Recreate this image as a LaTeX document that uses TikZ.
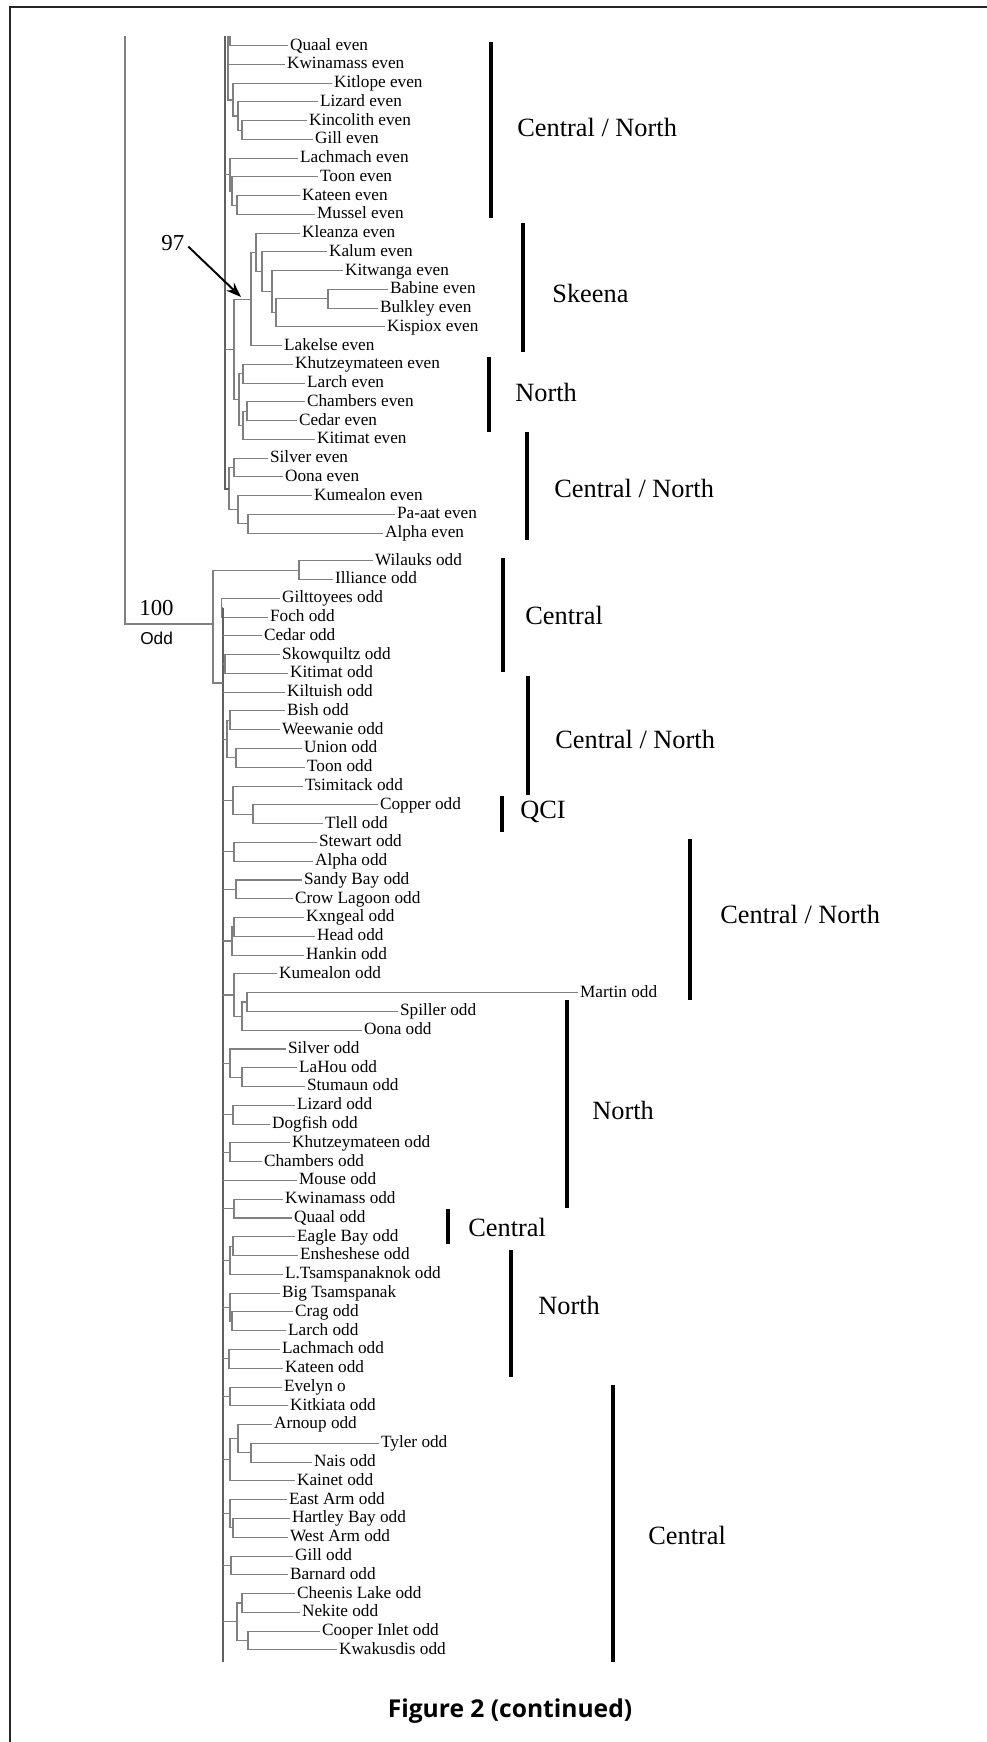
\documentclass[tikz,border=0pt]{standalone}
\usepackage{fontspec}
\setmainfont{Liberation Serif}
\newfontfamily\labsans{Liberation Sans}
\newfontfamily\capsans{Open Sans}
\usetikzlibrary{arrows.meta,positioning}
\tikzset{
  leaf/.style={anchor=west, inner xsep=1pt, inner ysep=0pt,
               font=\fontsize{9.8}{10}\selectfont, text height=7pt, text depth=2pt},
  br/.style={draw=black!50, line width=0.6pt},
  spine/.style={draw=black!62, line width=1.3pt},
  trunk/.style={draw=black!50, line width=0.9pt},
  bar/.style={draw=black, line width=2.3pt},
  region/.style={anchor=west, inner sep=0pt, font=\fontsize{15}{16}\selectfont},
  boot/.style={anchor=west, inner sep=0pt, font=\fontsize{13}{14}\selectfont},
  flow/.style={-{Stealth[length=3mm, width=2.2mm]}, line width=1.1pt},
}
\newcommand{\clade}[5]{\coordinate (#1) at (#2,#3); \draw[br] (#4) -| (#1) |- (#5);}
\newcommand{\cn}{Central / North}

\begin{document}
\begin{tikzpicture}[x=0.02cm, y=-0.02cm]
  \useasboundingbox (0,0) rectangle (987,1742);
  % frame
  \coordinate (fA) at (10,1742); \coordinate (fB) at (987,7);
  \draw[line width=1.2pt, black!85] (fA) |- (fB);

  % even leaves
  \foreach \n/\x/\t [count=\i from 0] in {eQuaal/288/Quaal even, eKwin/285/Kwinamass even,
      eKitl/332/Kitlope even, eLiz/318/Lizard even, eKinc/307/Kincolith even, eGill/313/Gill even,
      eLach/298/Lachmach even, eToon/318/Toon even, eKat/300/Kateen even, eMus/315/Mussel even,
      eKlea/300/Kleanza even, eKal/327/Kalum even, eKitw/343/Kitwanga even, eBab/388/Babine even,
      eBul/378/Bulkley even, eKisp/385/Kispiox even, eLak/282/Lakelse even,
      eKhu/293/Khutzeymateen even, eLar/305/Larch even, eCham/305/Chambers even,
      eCed/297/Cedar even, eKiti/315/Kitimat even, eSil/268/Silver even, eOona/283/Oona even,
      eKum/312/Kumealon even, ePaa/395/Pa-aat even, eAlp/383/Alpha even}
    \node[leaf] (\n) at (\x,{45.7+18.75*\i}) {\t};

  % odd leaves
  \foreach \n/\x/\t [count=\i from 0] in {oWil/373/Wilauks odd, oIll/333/Illiance odd,
      oGil/280/Gilttoyees odd, oFoch/268/Foch odd, oCed/262/Cedar odd, oSkow/280/Skowquiltz odd,
      oKiti/288/Kitimat odd, oKilt/285/Kiltuish odd, oBish/285/Bish odd, oWee/280/Weewanie odd,
      oUni/302/Union odd, oToon/305/Toon odd, oTsim/303/Tsimitack odd, oCop/378/Copper odd,
      oTle/323/Tlell odd, oStew/317/Stewart odd, oAlp/313/Alpha odd, oSandy/302/Sandy Bay odd,
      oCrow/293/Crow Lagoon odd, oKxn/304/Kxngeal odd, oHead/315/Head odd, oHank/304/Hankin odd,
      oKum/277/Kumealon odd, oMart/578/Martin odd, oSpil/398/Spiller odd, oOona/362/Oona odd,
      oSil/286/Silver odd, oLaH/297/LaHou odd, oStum/305/Stumaun odd, oLiz/295/Lizard odd,
      oDog/270/Dogfish odd, oKhu/290/Khutzeymateen odd, oCham/262/Chambers odd,
      oMou/297/Mouse odd, oKwin/283/Kwinamass odd, oQua/292/Quaal odd, oEag/295/Eagle Bay odd,
      oEns/298/Ensheshese odd, oLTs/283/L.Tsamspanaknok odd, oBTs/280/Big Tsamspanak,
      oCrag/293/Crag odd, oLar/286/Larch odd, oLach/280/Lachmach odd, oKat/283/Kateen odd,
      oEve/282/Evelyn o, oKitk/288/Kitkiata odd, oArn/272/Arnoup odd, oTyl/379/Tyler odd,
      oNais/312/Nais odd, oKain/295/Kainet odd, oEast/287/East Arm odd,
      oHart/290/Hartley Bay odd, oWest/288/West Arm odd, oGill/293/Gill odd,
      oBarn/288/Barnard odd, oChee/295/Cheenis Lake odd, oNek/300/Nekite odd,
      oCoop/320/Cooper Inlet odd, oKwak/337/Kwakusdis odd}
    \node[leaf] (\n) at (\x,{560.7+18.78*\i}) {\t};

  % even clades
  \clade{eKG}{242}{130.1}{eKinc.west}{eGill.west}
  \clade{eLKG}{238}{116}{eLiz.west}{eKG}
  \clade{eKLKG}{233}{100}{eKitl.west}{eLKG}
  \clade{eKM}{237}{205.1}{eKat.west}{eMus.west}
  \clade{eTKM}{232}{191}{eToon.west}{eKM}
  \clade{eLTKM}{230}{174.6}{eLach.west}{eTKM}
  \clade{eBB}{328}{298.8}{eBab.west}{eBul.west}
  \clade{eKBB}{276}{312.9}{eKisp.west}{eBB}
  \clade{eKKBB}{272}{291.8}{eKitw.west}{eKBB}
  \clade{eKal2}{262}{271.9}{eKal.west}{eKKBB}
  \clade{eKle2}{256}{252.5}{eKlea.west}{eKal2}
  \clade{eSke}{251}{299.1}{eKle2}{eLak.west}
  \clade{eKL}{243}{373.8}{eKhu.west}{eLar.west}
  \clade{eCC}{247}{411.3}{eCham.west}{eCed.west}
  \clade{eCCK}{243}{425.4}{eCC}{eKiti.west}
  \clade{eNor}{239}{399.6}{eKL}{eCCK}
  \clade{eSN}{234}{349.4}{eSke}{eNor}
  \clade{eSO}{234}{467.6}{eSil.west}{eOona.west}
  \clade{ePA}{248}{523.8}{ePaa.west}{eAlp.west}
  \clade{eKPA}{238}{509.8}{eKum.west}{ePA}
  \clade{eSOK}{229}{488.7}{eSO}{eKPA}
  % even backbone, cut at the top
  \coordinate (eTop) at (225,36); \coordinate (eTopB) at (228,36); \coordinate (eTopA) at (230,36);
  \draw[spine, line width=1pt] (eTop) |- (eSOK);
  \draw[br] (eTopA) |- (eQuaal.west);
  \draw[br] (eTopB) |- (eKLKG);
  \draw[br] (eKwin.west) -- (eKwin.west -| eTopB);
  \draw[br] (eLTKM) -- (eLTKM -| eTop);
  \draw[br] (eSN) -- (eSN -| eTop);

  % odd clades
  \clade{oWI}{299}{570.1}{oWil.west}{oIll.west}
  \clade{oGF}{221.5}{607.7}{oGil.west}{oFoch.west}
  \clade{oSK}{225}{664}{oSkow.west}{oKiti.west}
  \clade{oBW}{230}{720.3}{oBish.west}{oWee.west}
  \clade{oUT}{236}{757.9}{oUni.west}{oToon.west}
  \clade{oBWUT}{227}{739.1}{oBW}{oUT}
  \clade{oCT}{253}{814.2}{oCop.west}{oTle.west}
  \clade{oTCT}{233}{800.1}{oTsim.west}{oCT}
  \clade{oSA}{234}{851.8}{oStew.west}{oAlp.west}
  \clade{oSC}{236}{889.4}{oSandy.west}{oCrow.west}
  \clade{oKH}{234}{926.9}{oKxn.west}{oHead.west}
  \clade{oKHH}{232}{941}{oKH}{oHank.west}
  \clade{oMS}{247}{1002}{oMart.west}{oSpil.west}
  \clade{oMSO}{242}{1016.1}{oMS}{oOona.west}
  \clade{oKMSO}{234}{995}{oKum.west}{oMSO}
  \clade{oLS}{242}{1077.2}{oLaH.west}{oStum.west}
  \clade{oSLS}{230}{1063.1}{oSil.west}{oLS}
  \clade{oLD}{233}{1114.7}{oLiz.west}{oDog.west}
  \clade{oKC}{230}{1152.3}{oKhu.west}{oCham.west}
  \clade{oKQ}{234}{1208.6}{oKwin.west}{oQua.west}
  \clade{oEE}{233}{1246.2}{oEag.west}{oEns.west}
  \clade{oEEL}{230}{1260.3}{oEE}{oLTs.west}
  \clade{oCL}{232}{1321.3}{oCrag.west}{oLar.west}
  \clade{oBCL}{230}{1307.2}{oBTs.west}{oCL}
  \clade{oLK}{229}{1358.9}{oLach.west}{oKat.west}
  \clade{oEK}{230}{1396.4}{oEve.west}{oKitk.west}
  \clade{oTN}{251}{1452.8}{oTyl.west}{oNais.west}
  \clade{oATN}{238}{1438.7}{oArn.west}{oTN}
  \clade{oATNK}{230}{1459.8}{oATN}{oKain.west}
  \clade{oHW}{233}{1527.9}{oHart.west}{oWest.west}
  \clade{oEHW}{230}{1513.8}{oEast.west}{oHW}
  \clade{oGB}{231}{1565.4}{oGill.west}{oBarn.west}
  \clade{oCN}{242}{1603}{oChee.west}{oNek.west}
  \clade{oCK}{248}{1640.6}{oCoop.west}{oKwak.west}
  \clade{oCNCK}{237}{1621.8}{oCN}{oCK}
  % odd backbone, cut at the bottom
  \coordinate (oSpine) at (223,607.7); \coordinate (oEnd) at (223,1662);
  \coordinate (oRoot) at (213,624); \coordinate (oRest) at (223,683);
  \draw[spine] (oSpine) -- (oEnd);
  \draw[br] (oGF) -- (oSpine);
  \draw[br] (oWI) -| (oRoot) |- (oRest);
  \foreach \c in {oSK,oBWUT,oTCT,oSA,oSC,oKHH,oKMSO,oSLS,oLD,oKC,oKQ,oEEL,oBCL,oLK,oEK,oATNK,oEHW,oGB,oCNCK}
    \draw[br] (\c) -- (\c -| oSpine);
  \foreach \c in {oCed,oKilt,oMou}
    \draw[br] (\c.west) -- (\c.west -| oSpine);

  % trunk to the root above
  \coordinate (rootTop) at (125,36);
  \draw[trunk] (rootTop) |- (oRoot);
  \node[boot] (n100) at (139,608) {100};
  \node[anchor=west, inner sep=0pt, font=\labsans\fontsize{9.8}{11}\selectfont] (nOdd) at (140,638) {Odd};
  \node[boot] (n97) at (161,243) {97};
  \coordinate (p97) at (241,297);
  \draw[flow, shorten <=3pt] (n97.east) -- (p97);

  % regions
  \foreach \bx/\ya/\yb/\lx/\ly/\t [count=\k] in {491/42/218/517/127/\cn, 523/223/352/552/293/Skeena,
      489/357/432/515/392/North, 527/432/540/554/488/\cn, 503/558/672/525/615/Central,
      528/676/795/555/739/\cn, 502/796/832/520/812/QCI, 690/839/1000/720/914/\cn,
      567/1000/1208/592/1110/North, 448/1209/1244/468/1227/Central,
      511/1250/1377/538/1305/North, 613/1385/1662/648/1535/Central} {
    \draw[bar] (\bx,\ya) -- (\bx,\yb);
    \node[region] (reg\k) at (\lx,\ly) {\t};
  }

  \node[font=\capsans\bfseries\fontsize{14}{16}\selectfont] (cap) at (510,1711) {Figure 2 (continued)};
\end{tikzpicture}
\end{document}
